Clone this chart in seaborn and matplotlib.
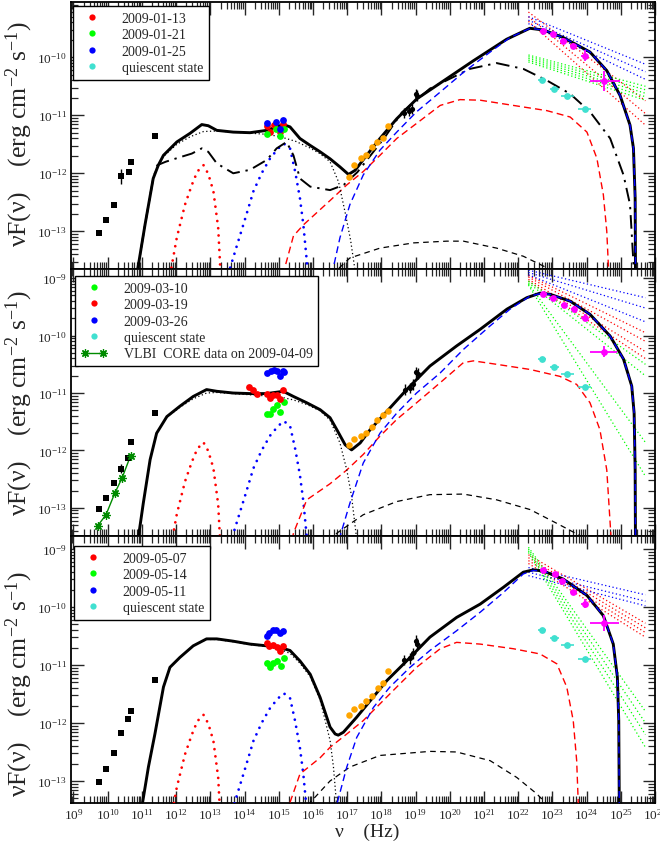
import numpy as np
import matplotlib
matplotlib.use("Agg")
import matplotlib.pyplot as plt
from matplotlib.lines import Line2D
from matplotlib.legend_handler import HandlerLine2D
from matplotlib.ticker import FixedLocator, NullFormatter, LogFormatterSciNotation
import seaborn as sns

sns.set_style("ticks")
plt.rcParams.update({
    "font.family": ["Liberation Serif", "DejaVu Serif"],
    "mathtext.fontset": "custom",
    "mathtext.rm": "Liberation Serif",
    "mathtext.it": "Liberation Serif:italic",
    "mathtext.bf": "Liberation Serif:bold",
    "axes.unicode_minus": False,
})

# All values are (log10 nu [Hz], log10 nuF_nu [erg cm^-2 s^-1])

# ---------------- shared components ----------------
TORUS_BUMP = [(11.83, -13.75), (11.87, -13.60), (12.02, -13.11), (12.26, -12.54), (12.46, -12.20),
              (12.62, -11.97), (12.80, -11.86), (12.94, -12.01), (13.09, -12.31), (13.23, -12.94),
              (13.28, -13.51), (13.30, -13.75)]
DISK_BUMP = [(13.55, -13.75), (13.58, -13.63), (13.77, -13.26), (14.01, -12.80), (14.26, -12.31),
             (14.50, -12.00), (14.75, -11.74), (14.99, -11.57), (15.15, -11.49), (15.33, -11.57),
             (15.48, -11.97), (15.62, -12.43), (15.72, -12.89), (15.82, -13.51), (15.85, -13.75)]
QUIESCENT_LAT = [(22.70, -10.40), (23.05, -10.54), (23.44, -10.66), (23.94, -10.90)]
QUIESCENT_LAT_XERR = [0.12, 0.13, 0.18, 0.20]
BOWTIE_NU = (22.30, 25.72)

# ---------------- January 2009 ----------------
JAN_RADIO = [(9.75, -13.03), (9.95, -12.80), (10.19, -12.555), (10.38, -12.05), (10.61, -11.97),
             (10.67, -11.81), (11.39, -11.35)]
JAN_RADIO_YERR = [0, 0, 0, 0.13, 0, 0, 0]
JAN_OPT_13 = [(14.65, -11.18), (14.75, -11.29), (14.87, -11.17), (15.04, -11.29), (15.12, -11.15)]
JAN_OPT_21 = [(14.65, -11.33), (14.92, -11.23), (15.04, -11.35), (15.15, -11.235)]
JAN_OPT_25 = [(14.65, -11.13), (14.92, -11.11), (15.12, -11.075), (15.04, -11.23)]
JAN_XRT = [(17.06, -12.06), (17.21, -11.86), (17.40, -11.73), (17.55, -11.69), (17.72, -11.54),
           (17.87, -11.46), (18.04, -11.39), (18.20, -11.19)]
JAN_HXR = [(18.66, -10.96), (18.82, -10.92), (18.89, -10.89), (19.01, -10.63), (19.05, -10.66)]
JAN_LAT = [(22.74, -9.54), (23.02, -9.60), (23.32, -9.715), (23.61, -9.80), (23.94, -9.97), (24.51, -10.41)]
JAN_LAT_YERR = [0.04, 0.04, 0.05, 0.05, 0.10, 0.17]
JAN_LAT_XERR = [(0.10, 0.10), (0.10, 0.10), (0.10, 0.10), (0.10, 0.10), (0.10, 0.10), (0.41, 0.47)]
JAN_BOW_RED = [(-9.22, -10.75), (-9.30, -10.97), (-9.38, -11.17)]
JAN_BOW_BLUE = [(-9.30, -10.12), (-9.36, -10.25), (-9.42, -10.38)]
JAN_BOW_GREEN = [(-9.96, -10.50), (-9.99, -10.56), (-10.02, -10.62), (-10.05, -10.68), (-10.08, -10.74)]
JAN_TOTAL = [(10.85, -13.75), (11.09, -12.89), (11.33, -12.09), (11.48, -11.86), (11.63, -11.69),
             (12.02, -11.46), (12.41, -11.31), (12.75, -11.16), (12.94, -11.18), (13.19, -11.26),
             (13.67, -11.29), (14.16, -11.30), (14.65, -11.26), (15.13, -11.16), (15.33, -11.20),
             (15.62, -11.40), (15.92, -11.52), (16.21, -11.63), (16.50, -11.75), (16.79, -11.89),
             (17.04, -12.02), (17.23, -11.95), (17.57, -11.69), (17.96, -11.40), (18.45, -11.06),
             (19.03, -10.72), (19.91, -10.37), (20.69, -10.06), (21.66, -9.69), (22.34, -9.50),
             (22.74, -9.53), (23.32, -9.66), (24.10, -9.91), (24.59, -10.23), (24.98, -10.66),
             (25.27, -11.17), (25.37, -11.57), (25.42, -12.43), (25.43, -13.75)]
JAN_SYNC = [(10.85, -13.75), (11.09, -12.89), (11.33, -12.09), (11.48, -11.86), (11.63, -11.71),
            (12.02, -11.50), (12.41, -11.37), (12.80, -11.28), (13.20, -11.27), (13.70, -11.29),
            (14.20, -11.31), (14.70, -11.33), (15.10, -11.38), (15.50, -11.45), (15.90, -11.56),
            (16.20, -11.66), (16.50, -11.80), (16.75, -12.15), (16.95, -12.70), (17.10, -13.15),
            (17.25, -13.75)]
JAN_QUIET_MODEL = [(10.85, -13.75), (11.09, -12.89), (11.33, -12.09), (11.45, -11.86), (11.70, -11.80),
                   (12.02, -11.74), (12.46, -11.66), (12.75, -11.57), (12.94, -11.63), (13.19, -11.83),
                   (13.67, -12.00), (14.16, -11.94), (14.65, -11.77), (14.94, -11.57), (15.23, -11.46),
                   (15.43, -11.69), (15.62, -12.09), (15.92, -12.23), (16.50, -12.29), (16.90, -12.20),
                   (17.30, -11.98), (17.70, -11.68), (18.10, -11.38), (18.60, -10.95), (19.42, -10.54),
                   (20.59, -10.20), (21.37, -10.10), (22.15, -10.20), (22.84, -10.40), (23.52, -10.63),
                   (24.10, -10.94), (24.69, -11.40), (25.08, -12.03), (25.27, -12.54), (25.39, -13.75)]
JAN_EC_DUST = [(15.12, -13.75), (15.43, -13.08), (15.72, -12.89), (16.50, -12.47), (16.99, -12.20),
               (17.47, -11.97), (17.96, -11.69), (18.45, -11.40), (19.03, -11.14), (19.72, -10.83),
               (20.30, -10.73), (20.89, -10.74), (21.86, -10.83), (22.84, -10.92), (23.52, -11.03),
               (24.01, -11.29), (24.30, -11.74), (24.49, -12.37), (24.59, -13.00), (24.65, -13.75)]
JAN_EC_BLR = [(16.55, -13.75), (16.79, -13.11), (17.08, -12.54), (17.47, -12.03), (17.96, -11.60),
              (18.45, -11.29), (19.03, -10.94), (19.72, -10.60), (20.40, -10.26), (21.18, -9.91),
              (21.76, -9.66), (22.35, -9.50), (22.74, -9.53), (23.32, -9.66), (24.10, -9.91),
              (24.59, -10.23), (24.98, -10.66), (25.27, -11.17), (25.37, -11.57), (25.42, -12.43),
              (25.43, -13.75)]
JAN_SSC = [(16.55, -13.75), (17.08, -13.46), (17.96, -13.29), (18.94, -13.20), (19.91, -13.17),
           (20.40, -13.17), (21.37, -13.29), (22.15, -13.43), (22.74, -13.60), (23.00, -13.72)]

# ---------------- March 2009 ----------------
MAR_RADIO = [(9.74, -13.02), (9.95, -12.82), (10.18, -12.57), (10.38, -12.32), (10.60, -12.13),
             (10.67, -11.85), (11.39, -11.35)]
MAR_RADIO_YERR = [0, 0, 0, 0.08, 0, 0, 0]
MAR_VLBI = [(9.71, -13.31), (9.95, -13.12), (10.21, -12.74), (10.42, -12.48), (10.67, -12.09)]
MAR_OPT_10 = [(14.65, -11.36), (14.75, -11.36), (14.84, -11.27), (14.94, -11.20), (15.04, -11.33), (15.16, -11.16)]
MAR_OPT_19 = [(14.12, -10.89), (14.26, -10.95), (14.37, -11.01), (14.65, -11.01), (14.75, -11.08),
              (14.84, -11.04), (14.94, -11.03), (15.04, -11.10), (15.13, -10.95)]
MAR_OPT_26 = [(14.65, -10.65), (14.77, -10.62), (14.87, -10.60), (14.94, -10.61), (15.04, -10.71),
              (15.12, -10.62), (15.16, -10.64)]
MAR_XRT = [(17.06, -11.90), (17.21, -11.795), (17.40, -11.74), (17.55, -11.695), (17.72, -11.59),
           (17.87, -11.475), (18.04, -11.39), (18.20, -11.32)]
MAR_HXR = [(18.69, -10.94), (18.84, -10.91), (18.92, -10.85), (19.01, -10.64), (19.06, -10.66)]
MAR_LAT = [(22.74, -9.28), (23.01, -9.34), (23.34, -9.47), (23.63, -9.53), (23.94, -9.69), (24.52, -10.28)]
MAR_LAT_YERR = [0.03, 0.03, 0.04, 0.04, 0.06, 0.10]
MAR_LAT_XERR = [(0.10, 0.10), (0.10, 0.10), (0.10, 0.10), (0.10, 0.10), (0.10, 0.10), (0.42, 0.36)]
MAR_BOW_RED = [(-8.95, -9.95), (-8.98, -10.10), (-9.02, -10.28), (-9.05, -10.40)]
MAR_BOW_BLUE = [(-8.86, -9.34), (-8.90, -9.52), (-8.94, -9.76)]
MAR_BOW_GREEN = [(-9.05, -10.50), (-9.08, -10.70), (-9.10, -11.86), (-9.12, -12.45)]
MAR_TOTAL = [(10.84, -13.75), (11.04, -12.92), (11.24, -12.16), (11.43, -11.70), (11.73, -11.41),
             (12.11, -11.23), (12.50, -11.06), (12.89, -10.94), (13.19, -10.97), (13.67, -11.00),
             (14.16, -11.01), (14.65, -11.01), (15.13, -10.97), (15.43, -11.06), (15.82, -11.17),
             (16.21, -11.29), (16.50, -11.43), (16.70, -11.64), (16.94, -11.90), (17.13, -11.99),
             (17.38, -11.87), (17.67, -11.64), (18.16, -11.32), (18.74, -10.94), (19.42, -10.53),
             (20.20, -10.18), (20.89, -9.89), (21.67, -9.54), (22.25, -9.34), (22.64, -9.26),
             (22.93, -9.28), (23.52, -9.40), (24.10, -9.63), (24.69, -10.01), (25.08, -10.41),
             (25.32, -10.88), (25.39, -11.35), (25.42, -12.34), (25.43, -13.75)]
MAR_SYNC = [(10.84, -13.75), (11.04, -12.92), (11.24, -12.16), (11.43, -11.70), (11.73, -11.42),
            (12.11, -11.25), (12.50, -11.10), (12.89, -11.00), (13.19, -10.99), (13.67, -11.01),
            (14.16, -11.03), (14.65, -11.05), (15.13, -11.08), (15.43, -11.12), (15.82, -11.20),
            (16.21, -11.31), (16.50, -11.47), (16.79, -11.87), (16.99, -12.34), (17.13, -12.80),
            (17.32, -13.75)]
MAR_EC_DUST = [(15.33, -13.75), (15.43, -13.44), (15.82, -12.86), (16.50, -12.58), (16.99, -12.34),
               (17.47, -12.07), (17.96, -11.75), (18.45, -11.46), (19.03, -11.17), (19.72, -10.82),
               (20.40, -10.47), (20.69, -10.44), (21.37, -10.50), (22.35, -10.59), (23.22, -10.71),
               (23.71, -10.85), (24.10, -11.17), (24.39, -11.64), (24.59, -12.34), (24.74, -13.75)]
MAR_EC_BLR = [(16.72, -13.75), (16.79, -13.50), (17.08, -12.92), (17.47, -12.22), (17.96, -11.70),
              (18.45, -11.35), (19.03, -11.00), (19.72, -10.65), (20.40, -10.24), (21.18, -9.83),
              (21.76, -9.54), (22.35, -9.31), (22.64, -9.27), (22.93, -9.28), (23.52, -9.40),
              (24.10, -9.63), (24.69, -10.01), (25.08, -10.41), (25.32, -10.88), (25.39, -11.35),
              (25.42, -12.34), (25.43, -13.75)]
MAR_SSC = [(16.50, -13.60), (16.70, -13.44), (17.47, -13.12), (18.45, -12.89), (19.42, -12.77),
           (20.40, -12.76), (21.37, -12.86), (22.35, -13.03), (23.13, -13.27), (23.86, -13.50),
           (24.00, -13.60)]

# ---------------- May 2009 ----------------
MAY_RADIO = [(9.74, -13.02), (9.95, -12.79), (10.18, -12.52), (10.38, -12.18), (10.60, -11.93),
             (10.67, -11.79), (11.39, -11.26)]
MAY_RADIO_YERR = [0, 0, 0, 0, 0, 0, 0]
MAY_OPT_07 = [(14.65, -10.62), (14.72, -10.68), (14.84, -10.66), (14.94, -10.69), (15.04, -10.76), (15.13, -10.68)]
MAY_OPT_14 = [(14.65, -10.96), (14.75, -11.03), (14.84, -10.96), (14.94, -10.94), (15.06, -11.02), (15.16, -10.88)]
MAY_OPT_11 = [(14.65, -10.50), (14.72, -10.44), (14.82, -10.40), (14.92, -10.39), (15.04, -10.45), (15.13, -10.41)]
MAY_XRT = [(17.06, -11.87), (17.21, -11.76), (17.40, -11.70), (17.55, -11.62), (17.72, -11.54),
           (17.89, -11.40), (18.04, -11.31), (18.20, -11.11)]
MAY_HXR = [(18.66, -10.91), (18.84, -10.885), (18.93, -10.80), (19.01, -10.58), (19.05, -10.63)]
MAY_LAT = [(22.74, -9.36), (23.08, -9.43), (23.28, -9.55), (23.61, -9.75), (23.94, -9.94), (24.51, -10.28)]
MAY_LAT_YERR = [0.03, 0.03, 0.04, 0.05, 0.08, 0.14]
MAY_LAT_XERR = [(0.10, 0.10), (0.10, 0.10), (0.10, 0.10), (0.10, 0.10), (0.10, 0.10), (0.41, 0.45)]
MAY_BOW_RED = [(-9.10, -10.28), (-9.15, -10.36), (-9.20, -10.44), (-9.25, -10.52)]
MAY_BOW_BLUE = [(-9.32, -9.79), (-9.40, -9.90), (-9.46, -9.98)]
MAY_BOW_GREEN = [(-8.97, -11.80), (-9.00, -12.00), (-9.03, -12.20), (-9.06, -12.42)]
MAY_TOTAL = [(10.98, -13.75), (11.02, -13.37), (11.19, -12.76), (11.38, -12.19), (11.63, -11.38),
             (11.82, -11.04), (12.11, -10.87), (12.50, -10.67), (12.89, -10.55), (13.19, -10.55),
             (13.67, -10.59), (14.16, -10.64), (14.65, -10.67), (15.04, -10.70), (15.33, -10.75),
             (15.62, -10.93), (15.92, -11.16), (16.21, -11.56), (16.50, -12.07), (16.65, -12.19),
             (16.74, -12.21), (16.89, -12.16), (17.28, -11.90), (17.67, -11.62), (18.16, -11.27),
             (18.74, -10.93), (19.42, -10.52), (20.20, -10.18), (20.89, -9.95), (21.57, -9.66),
             (22.15, -9.40), (22.44, -9.36), (22.74, -9.38), (23.32, -9.52), (24.01, -9.80),
             (24.49, -10.15), (24.78, -10.64), (24.90, -11.21), (24.94, -11.96), (24.96, -13.75)]
MAY_SYNC = [(10.98, -13.75), (11.02, -13.37), (11.19, -12.76), (11.38, -12.19), (11.63, -11.38),
            (11.82, -11.04), (12.11, -10.87), (12.50, -10.67), (12.89, -10.56), (13.19, -10.56),
            (13.67, -10.60), (14.16, -10.65), (14.65, -10.68), (15.04, -10.73), (15.33, -10.80),
            (15.62, -10.97), (15.92, -11.20), (16.21, -11.60), (16.50, -12.30), (16.60, -12.76),
            (16.74, -13.75)]
MAY_EC_DUST = [(15.26, -13.75), (15.33, -13.37), (15.62, -12.88), (16.21, -12.60), (16.50, -12.42),
               (16.99, -12.19), (17.47, -11.96), (17.96, -11.67), (18.45, -11.38), (19.03, -11.04),
               (19.72, -10.72), (20.20, -10.61), (20.89, -10.64), (21.86, -10.72), (22.64, -10.81),
               (23.13, -10.98), (23.42, -11.38), (23.61, -11.96), (23.71, -12.65), (23.78, -13.75)]
MAY_EC_BLR = [(16.62, -13.75), (16.70, -13.40), (16.99, -12.76), (17.28, -12.25), (17.77, -11.73),
              (18.25, -11.38), (18.84, -11.04), (19.42, -10.75), (20.20, -10.41), (20.89, -10.09),
              (21.57, -9.75), (22.15, -9.43), (22.44, -9.37), (22.74, -9.38), (23.32, -9.52),
              (24.01, -9.80), (24.49, -10.15), (24.78, -10.64), (24.90, -11.21), (24.94, -11.96),
              (24.96, -13.75)]
MAY_SSC = [(15.80, -13.60), (15.92, -13.37), (16.50, -13.00), (17.08, -12.76), (17.96, -12.56),
           (19.42, -12.49), (20.20, -12.50), (21.18, -12.65), (21.96, -12.94), (22.54, -13.22),
           (22.84, -13.40), (22.95, -13.60)]

# panel extents in pixels of the 660 x 854 canvas and y-ranges (log10)
PANEL_TOPS = [3, 270, 537]
PANEL_BOTTOMS = [270, 537, 804]
PANEL_YLIMS = [(-13.65, -9.047), (-13.49, -8.84), (-13.38, -8.776)]
X_LIM = (8.927, 26.0)
# vertical pixel centre of each y-axis title
YTITLE_PX = [134, 403, 684]
YTITLE = "\u03bdF(\u03bd)    (erg cm$^{-2}$ s$^{-1}$)"

RED, GREEN, BLUE = "#ff0000", "#00ff00", "#0000ff"
TURQ, MAGENTA, ORANGE, DKGREEN = "#40e0d0", "#ff00ff", "#ffa500", "#008b00"

DOTS = (0, (0.01, 2.6))
FINE_DOT = (0, (1.0, 2.0))
DASH = (0, (5.0, 3.0))
SSC_DASH = (0, (4.5, 3.5))
DASH_DOT = (0, (7.0, 3.0, 1.2, 3.0))


def to_xy(points):
    arr = np.asarray(points, dtype=float)
    return 10.0 ** arr[:, 0], 10.0 ** arr[:, 1]


def draw_curve(ax, points, color, lw, ls, cap="butt", z=3):
    x, y = to_xy(points)
    sns.lineplot(x=x, y=y, ax=ax, color=color, linewidth=lw, linestyle=ls,
                 estimator=None, sort=False, legend=False, zorder=z,
                 dash_capstyle=cap)


def draw_points(ax, points, color, marker="o", size=22, z=6):
    x, y = to_xy(points)
    sns.scatterplot(x=x, y=y, ax=ax, color=color, marker=marker, s=size,
                    linewidth=0, legend=False, zorder=z)


def draw_errors(ax, points, yerr, xerr, color, lw=1.1, z=5):
    x, y = to_xy(points)
    ly = np.asarray(points, float)[:, 1]
    lx = np.asarray(points, float)[:, 0]
    ye = np.asarray(yerr, float)
    ylo = y - 10.0 ** (ly - ye)
    yhi = 10.0 ** (ly + ye) - y
    if xerr is None:
        xe = None
    else:
        xe_arr = np.asarray(xerr, float)
        if xe_arr.ndim == 1:
            xe_arr = np.stack([xe_arr, xe_arr], axis=1)
        xe = [x - 10.0 ** (lx - xe_arr[:, 0]), 10.0 ** (lx + xe_arr[:, 1]) - x]
    ax.errorbar(x, y, yerr=[ylo, yhi], xerr=xe, fmt="none", ecolor=color,
                elinewidth=lw, capsize=0, zorder=z)


def draw_bowtie(ax, lines, color):
    for f0, f1 in lines:
        draw_curve(ax, [(BOWTIE_NU[0], f0), (BOWTIE_NU[1], f1)], color, 0.9, FINE_DOT, z=2)


def draw_panel(ax, d):
    draw_bowtie(ax, d["bow_red"], RED)
    draw_bowtie(ax, d["bow_blue"], BLUE)
    draw_bowtie(ax, d["bow_green"], GREEN)
    draw_curve(ax, TORUS_BUMP, RED, 2.0, DOTS, cap="round")
    draw_curve(ax, DISK_BUMP, BLUE, 2.0, DOTS, cap="round")
    draw_curve(ax, d["ssc"], "black", 0.9, SSC_DASH)
    draw_curve(ax, d["ec_dust"], RED, 1.0, DASH)
    draw_curve(ax, d["sync"], "black", 0.9, FINE_DOT)
    if d.get("quiet") is not None:
        draw_curve(ax, d["quiet"], "black", 1.4, DASH_DOT)
    draw_curve(ax, d["total"], "black", 2.1, "-", z=4)
    draw_curve(ax, d["ec_blr"], BLUE, 1.0, DASH, z=4)
    # measurements
    draw_points(ax, d["radio"], "black", marker="s", size=18)
    yr = np.asarray(d["radio_yerr"], float)
    if yr.any():
        sel = [p for p, e in zip(d["radio"], yr) if e > 0]
        draw_errors(ax, sel, yr[yr > 0], None, "black", lw=1.0)
    if d.get("vlbi") is not None:
        draw_curve(ax, d["vlbi"], DKGREEN, 1.0, "-", z=5)
        x, y = to_xy(d["vlbi"])
        ax.plot(x, y, ls="none", marker=(8, 2, 0), ms=6, mew=0.9, color=DKGREEN, zorder=6)
    for pts, col in d["optical"]:
        draw_points(ax, pts, col, size=24)
    draw_points(ax, d["xrt"], ORANGE, size=22)
    draw_errors(ax, d["hxr"], [0.09] * len(d["hxr"]), [0.07] * len(d["hxr"]), "black", lw=1.0)
    draw_points(ax, d["hxr"], "black", size=14)
    draw_errors(ax, QUIESCENT_LAT, [0.03] * 4, QUIESCENT_LAT_XERR, TURQ, lw=1.2)
    draw_points(ax, QUIESCENT_LAT, TURQ, size=24)
    draw_errors(ax, d["lat"], d["lat_yerr"], d["lat_xerr"], MAGENTA, lw=1.3)
    draw_points(ax, d["lat"], MAGENTA, size=24)


PANELS = [
    dict(radio=JAN_RADIO, radio_yerr=JAN_RADIO_YERR, vlbi=None,
         optical=[(JAN_OPT_13, RED), (JAN_OPT_21, GREEN), (JAN_OPT_25, BLUE)],
         xrt=JAN_XRT, hxr=JAN_HXR, lat=JAN_LAT, lat_yerr=JAN_LAT_YERR, lat_xerr=JAN_LAT_XERR,
         bow_red=JAN_BOW_RED, bow_blue=JAN_BOW_BLUE, bow_green=JAN_BOW_GREEN,
         total=JAN_TOTAL, sync=JAN_SYNC, quiet=JAN_QUIET_MODEL, ec_dust=JAN_EC_DUST,
         ec_blr=JAN_EC_BLR, ssc=JAN_SSC,
         legend=[("2009-01-13", RED), ("2009-01-21", GREEN), ("2009-01-25", BLUE),
                 ("quiescent state", TURQ)],
         legend_px=(73, 7)),
    dict(radio=MAR_RADIO, radio_yerr=MAR_RADIO_YERR, vlbi=MAR_VLBI,
         optical=[(MAR_OPT_10, GREEN), (MAR_OPT_19, RED), (MAR_OPT_26, BLUE)],
         xrt=MAR_XRT, hxr=MAR_HXR, lat=MAR_LAT, lat_yerr=MAR_LAT_YERR, lat_xerr=MAR_LAT_XERR,
         bow_red=MAR_BOW_RED, bow_blue=MAR_BOW_BLUE, bow_green=MAR_BOW_GREEN,
         total=MAR_TOTAL, sync=MAR_SYNC, quiet=None, ec_dust=MAR_EC_DUST,
         ec_blr=MAR_EC_BLR, ssc=MAR_SSC,
         legend=[("2009-03-10", GREEN), ("2009-03-19", RED), ("2009-03-26", BLUE),
                 ("quiescent state", TURQ)],
         legend_px=(75, 277)),
    dict(radio=MAY_RADIO, radio_yerr=MAY_RADIO_YERR, vlbi=None,
         optical=[(MAY_OPT_07, RED), (MAY_OPT_14, GREEN), (MAY_OPT_11, BLUE)],
         xrt=MAY_XRT, hxr=MAY_HXR, lat=MAY_LAT, lat_yerr=MAY_LAT_YERR, lat_xerr=MAY_LAT_XERR,
         bow_red=MAY_BOW_RED, bow_blue=MAY_BOW_BLUE, bow_green=MAY_BOW_GREEN,
         total=MAY_TOTAL, sync=MAY_SYNC, quiet=None, ec_dust=MAY_EC_DUST,
         ec_blr=MAY_EC_BLR, ssc=MAY_SSC,
         legend=[("2009-05-07", RED), ("2009-05-14", GREEN), ("2009-05-11", BLUE),
                 ("quiescent state", TURQ)],
         legend_px=(74, 547)),
]

W, H = 660.0, 854.0
LEFT, RIGHT = 71.0, 655.0

fig = plt.figure(figsize=(W / 100, H / 100), dpi=100)
fig.patch.set_facecolor("white")


def decade_ticks(lo, hi):
    """Major (10^n) and minor (k*10^n) tick positions lying inside [lo, hi] in log10."""
    major = [10.0 ** n for n in range(int(np.floor(lo)), int(np.ceil(hi)) + 1)
             if lo - 1e-9 <= n <= hi + 1e-9]
    minor = [k * 10.0 ** n for n in range(int(np.floor(lo)), int(np.ceil(hi)) + 1)
             for k in range(2, 10) if lo <= np.log10(k) + n <= hi]
    return major, minor


for i, (d, top, bot, ylim) in enumerate(zip(PANELS, PANEL_TOPS, PANEL_BOTTOMS, PANEL_YLIMS)):
    ax = fig.add_axes([LEFT / W, 1 - bot / H, (RIGHT - LEFT) / W, (bot - top) / H])
    ax.set_xscale("log")
    ax.set_yscale("log")

    draw_panel(ax, d)

    ax.set_xlim(10.0 ** X_LIM[0], 10.0 ** X_LIM[1])
    ax.set_ylim(10.0 ** ylim[0], 10.0 ** ylim[1])
    ax.set_facecolor("white")

    xmaj, xmin = decade_ticks(*X_LIM)
    ymaj, ymin = decade_ticks(*ylim)
    ax.xaxis.set_major_locator(FixedLocator(xmaj))
    ax.xaxis.set_minor_locator(FixedLocator(xmin))
    ax.yaxis.set_major_locator(FixedLocator(ymaj))
    ax.yaxis.set_minor_locator(FixedLocator(ymin))
    ax.xaxis.set_minor_formatter(NullFormatter())
    ax.yaxis.set_minor_formatter(NullFormatter())
    ax.yaxis.set_major_formatter(LogFormatterSciNotation())
    ax.tick_params(which="major", direction="in", length=9, width=1.0, top=True, right=True,
                   labelsize=9.5, pad=3)
    ax.tick_params(which="minor", direction="in", length=5, width=0.9, top=True, right=True)
    for sp in ax.spines.values():
        sp.set_linewidth(1.3)
        sp.set_color("black")
    ax.set_ylabel("")
    if i < 2:
        ax.tick_params(labelbottom=False)
        ax.set_xlabel("")
    else:
        ax.xaxis.set_major_formatter(LogFormatterSciNotation())
        ax.set_xlabel("\u03bd    (Hz)", fontsize=14)
        ax.xaxis.set_label_coords((367 - LEFT) / (RIGHT - LEFT), -(824 - bot) / (bot - top))

    fig.text(35.0 / W, 1 - YTITLE_PX[i] / H, YTITLE, rotation=90,
             ha="right", va="center", fontsize=18.5)

    handles = [Line2D([], [], ls="none", marker="o", ms=4.5, mew=0, color=c) for _, c in d["legend"]]
    labels = [t for t, _ in d["legend"]]
    hmap = {}
    if d["vlbi"] is not None:
        vh = Line2D([], [], color=DKGREEN, lw=1.0, marker=(8, 2, 0), ms=6, mew=0.9)
        handles.append(vh)
        labels.append("VLBI  CORE data on 2009-04-09")
        hmap[vh] = HandlerLine2D(numpoints=2)
    lx, ly = d["legend_px"]
    leg = ax.legend(handles, labels, loc="upper left",
                    bbox_to_anchor=((lx - LEFT) / (RIGHT - LEFT), 1 - (ly - top) / (bot - top)),
                    borderaxespad=0, frameon=True, fancybox=False, framealpha=1,
                    edgecolor="black", fontsize=10, handlelength=1.9, handletextpad=1.2,
                    borderpad=0.4, labelspacing=0.25, numpoints=1, handler_map=hmap)
    leg.get_frame().set_linewidth(1.0)
    leg.set_zorder(10)

fig.savefig("out.png", dpi=100, facecolor="white")
